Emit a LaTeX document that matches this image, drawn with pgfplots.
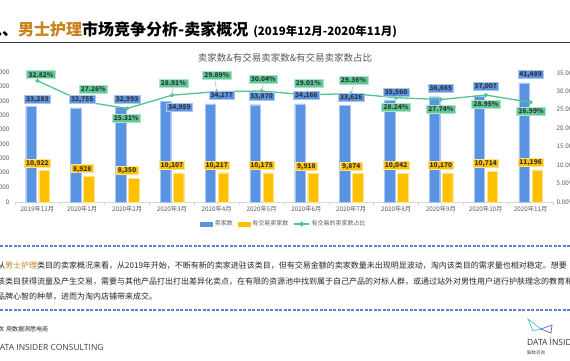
\documentclass[border=0pt]{standalone}
\usepackage{fontspec}
\setmainfont{Noto Sans CJK SC}
\newfontfamily\osans{Open Sans}
\usepackage{pgfplots}
\pgfplotsset{compat=1.18}
\usepackage{pgfplotstable}
\pgfkeys{/pgf/number format/assume math mode=true}

\definecolor{bluebar}{HTML}{5B93E3}
\definecolor{bluebd}{HTML}{A9C7F2}
\definecolor{yellowbar}{HTML}{FFC000}
\definecolor{yellowbd}{HTML}{FFE38A}
\definecolor{greenline}{HTML}{4DC78E}
\definecolor{greenlab}{HTML}{5DCA96}
\definecolor{greenbd}{HTML}{AEE5C9}
\definecolor{txtgray}{HTML}{595959}
\definecolor{labtxt}{HTML}{333333}
\definecolor{titleor}{HTML}{C8821E}
\definecolor{dashblue}{HTML}{5B7FC8}
\definecolor{axgray}{HTML}{D9D9D9}
\definecolor{leadgray}{HTML}{A6A6A6}
\definecolor{bodytxt}{HTML}{262626}
\definecolor{logoteal}{HTML}{4FC3C8}
\definecolor{logopurple}{HTML}{6A5ACD}

\pgfplotstableread{
x y dx dy
0 33283 0 3.2
1 32755 0 4.7
2 32993 0 3.5
3 34959 7.6 -10.2
4 34177 5 4.6
5 33870 0 4.0
6 34166 0 4.6
7 33626 0 4.2
8 35560 0 3.6
9 36665 0 4.5
10 37007 0 5.5
11 41489 0 4.1
}\bluetab

\pgfplotstableread{
x y
0 10922
1 8928
2 8350
3 10107
4 10217
5 10175
6 9918
7 9874
8 10042
9 10170
10 10714
11 11196
}\yellowtab

\pgfplotstableread{
x y dx dy
0 32.82 3.6 1.8
1 27.26 11 7.4
2 25.31 -0.8 -13.7
3 28.91 1.4 8.2
4 29.89 0 12.1
5 30.04 1.7 7.1
6 29.01 1.9 7.8
7 29.36 2.1 8.8
8 28.24 0 -13.5
9 27.74 0 -14.2
10 28.95 0.3 -13.2
11 26.99 0.5 -13.2
}\greentab

\pgfplotsset{
  chartbox/.style={at={(15pt,-202pt)}, anchor=south west,
    scale only axis, width=538pt, height=129.3pt, xmin=-0.5, xmax=11.5, clip=false},
}
\tikzset{
  barlabel/.style={line width=0.5pt, inner xsep=1.6pt, inner ysep=1.5pt,
    text height=4.8pt, text depth=0.2pt, font=\fontsize{6.6}{7}\selectfont\bfseries, text=labtxt},
}

\begin{document}
\begin{tikzpicture}
\useasboundingbox (0pt,-360pt) rectangle (570pt,0pt);
\clip (0pt,-360pt) rectangle (570pt,0pt);
\fill[white] (0pt,-360pt) rectangle (570pt,0pt);

% title
\node[anchor=base west, inner sep=0pt, font=\fontsize{16}{16}\selectfont\bfseries, text=black] at (-14pt,-35pt)
 {二、\textcolor{titleor}{男士护理}市场竞争分析-卖家概况\hspace{5pt}{\fontsize{11.5}{12}\selectfont(2019年12月-2020年11月)}};
\draw[line width=0.8pt, black!80] (0pt,-42pt) -- (570pt,-42pt);

% chart title
\node[inner sep=0pt, font=\fontsize{9.5}{10}\selectfont, text=txtgray] at (285pt,-58pt) {卖家数\&有交易卖家数\&有交易卖家数占比};

% axis A: bars
\begin{axis}[chartbox, ymin=0, ymax=45000,
  axis x line*=bottom, axis y line*=left,
  y axis line style={draw=none},
  x axis line style={draw=axgray, line width=0.8pt},
  xtick={0,...,11},
  xticklabels={2019年12月,2020年1月,2020年2月,2020年3月,2020年4月,2020年5月,2020年6月,2020年7月,2020年8月,2020年9月,2020年10月,2020年11月},
  minor xtick={-0.5,0.5,...,11.5},
  major tick length=0pt, minor tick length=3pt,
  tick align=outside,
  minor tick style={draw=axgray, line width=0.6pt},
  ytick={0,5000,...,45000},
  scaled y ticks=false,
  /pgf/number format/1000 sep={,},
  /pgf/number format/assume math mode=true,
  ticklabel style={font=\fontsize{6.3}{7}\selectfont, text=txtgray},
  xticklabel style={yshift=-1pt},
  yticklabel style={xshift=-2pt},
]
\addplot[ybar, bar width=10.5pt, bar shift=-6.5pt, fill=bluebar, draw=bluebd, line width=0.3pt]
  table[x=x,y=y]{\bluetab};
\addplot[ybar, bar width=10.5pt, bar shift=6.5pt, fill=yellowbar, draw=yellowbd, line width=0.3pt]
  table[x=x,y=y]{\yellowtab};
\end{axis}

% axis B: share line
\begin{axis}[chartbox, ymin=0, ymax=35,
  axis x line=none, axis y line*=right,
  y axis line style={draw=none},
  xtick=\empty,
  ytick={0,5,...,35},
  major tick length=0pt,
  /pgf/number format/assume math mode=true,
  yticklabel={\pgfmathprintnumber[fixed,fixed zerofill,precision=2,assume math mode=true]{\tick}\%},
  ticklabel style={font=\fontsize{6.3}{7}\selectfont, text=txtgray},
  legend style={at={(0.5,-0.17)}, anchor=center, draw=none, fill=none,
    font=\fontsize{6}{7}\selectfont, text=txtgray, legend columns=3, inner sep=0pt,
    /tikz/every even column/.append style={column sep=3pt}},
  legend cell align=left,
]
\addlegendimage{legend image code/.code={\fill[bluebar] (0pt,-2pt) rectangle (12pt,2pt);}}
\addlegendentry{卖家数}
\addlegendimage{legend image code/.code={\fill[yellowbar] (0pt,-2pt) rectangle (12pt,2pt);}}
\addlegendentry{有交易卖家数}
\addplot[greenline, line width=1.3pt, mark=*, mark size=1.3pt, mark options={fill=greenline, draw=greenline},
  legend image code/.code={\draw[greenline, line width=1.3pt] (0pt,0pt) -- (15pt,0pt); \fill[greenline] (7.5pt,0pt) circle (1.7pt);},
  visualization depends on={\thisrow{dx} \as \lbdx},
  visualization depends on={\thisrow{dy} \as \lbdy},
  nodes near coords={\pgfmathprintnumber[fixed,fixed zerofill,precision=2,assume math mode=true]{\pgfplotspointmeta}\%},
  every node near coord/.append style={anchor=south, xshift=\lbdx pt, yshift=\lbdy pt,
    fill=greenlab, draw=greenbd, barlabel, inner xsep=2pt}]
  table[x=x,y=y]{\greentab};
\addlegendentry{有交易的卖家数占比}
\draw[leadgray, line width=0.4pt] (axis cs:1,27.26) -- ([xshift=11pt,yshift=7.4pt]axis cs:1,27.26);
\draw[leadgray, line width=0.4pt] (axis cs:3,28.91) -- ([xshift=1.4pt,yshift=8.2pt]axis cs:3,28.91);
\draw[leadgray, line width=0.4pt] (axis cs:4,29.89) -- ([xshift=-2pt,yshift=12.1pt]axis cs:4,29.89);
\draw[leadgray, line width=0.4pt] (axis cs:5,30.04) -- ([xshift=1.7pt,yshift=7.1pt]axis cs:5,30.04);
\draw[leadgray, line width=0.4pt] (axis cs:6,29.01) -- ([xshift=1.9pt,yshift=7.8pt]axis cs:6,29.01);
\draw[leadgray, line width=0.4pt] (axis cs:7,29.36) -- ([xshift=2.1pt,yshift=8.8pt]axis cs:7,29.36);
\end{axis}

% axis C: bar value labels on top
\begin{axis}[chartbox, ymin=0, ymax=45000, hide axis,
  /pgf/number format/1000 sep={,},
  /pgf/number format/assume math mode=true,
]
\addplot[ybar, bar width=10.5pt, bar shift=-6.5pt, draw=none, fill=none,
  visualization depends on={\thisrow{dx} \as \lbdx},
  visualization depends on={\thisrow{dy} \as \lbdy},
  nodes near coords,
  every node near coord/.append style={anchor=south, xshift=\lbdx pt, yshift=\lbdy pt,
    fill=bluebar, draw=bluebd, barlabel}]
  table[x=x,y=y]{\bluetab};
\addplot[ybar, bar width=10.5pt, bar shift=6.5pt, draw=none, fill=none,
  nodes near coords,
  every node near coord/.append style={anchor=south, yshift=3.4pt,
    fill=yellowbar, draw=yellowbd, barlabel}]
  table[x=x,y=y]{\yellowtab};
\end{axis}

% text block
\draw[dashblue, line width=1.1pt, dash pattern=on 3pt off 1.5pt] (0pt,-246pt) -- (570pt,-246pt);
\node[anchor=base west, inner sep=0pt, font=\fontsize{8}{9}\selectfont, text=bodytxt] at (-3pt,-268.5pt)
 {从\textcolor{titleor}{男士护理}类目的卖家概况来看，从2019年开始，不断有新的卖家进驻该类目，但有交易金额的卖家数量未出现明显波动，淘内该类目的需求量也相对稳定。想要};
\node[anchor=base west, inner sep=0pt, font=\fontsize{8}{9}\selectfont, text=bodytxt] at (-3pt,-284pt)
 {该类目获得流量及产生交易，需要与其他产品打出打出差异化卖点，在有限的资源池中找到属于自己产品的对标人群，或通过站外对男性用户进行护肤理念的教育和};
\node[anchor=base west, inner sep=0pt, font=\fontsize{8}{9}\selectfont, text=bodytxt] at (-3pt,-299pt)
 {品牌心智的种草，进而为淘内店铺带来成交。};
\draw[dashblue, line width=1.1pt, dash pattern=on 3pt off 1.5pt] (0pt,-310pt) -- (570pt,-310pt);

% footer
\node[anchor=base west, inner sep=0pt, font=\fontsize{6}{7}\selectfont, text=bodytxt] at (-8pt,-331pt) {解数\hspace{2pt}用数据洞悉电商};
\node[anchor=base west, inner sep=0pt, font=\osans\fontsize{8.5}{9}\selectfont, text=black!75] at (-6.3pt,-350pt) {DATA INSIDER CONSULTING};

% logo
\draw[logoteal, line width=0.7pt] (528pt,-319pt) -- (541pt,-329pt) -- (533pt,-331pt) -- cycle;
\draw[logopurple, line width=0.7pt] (541pt,-329pt) -- (552pt,-325pt) -- (551pt,-333pt) -- cycle;
\node[anchor=base west, inner sep=0pt, font=\osans\fontsize{8.5}{9}\selectfont, text=black!80] at (527pt,-345pt) {DATA İNSIDER};
\node[anchor=base west, inner sep=0pt, font=\fontsize{4.5}{5}\selectfont, text=black!70] at (527pt,-354pt) {解数咨询};
\end{tikzpicture}
\end{document}
